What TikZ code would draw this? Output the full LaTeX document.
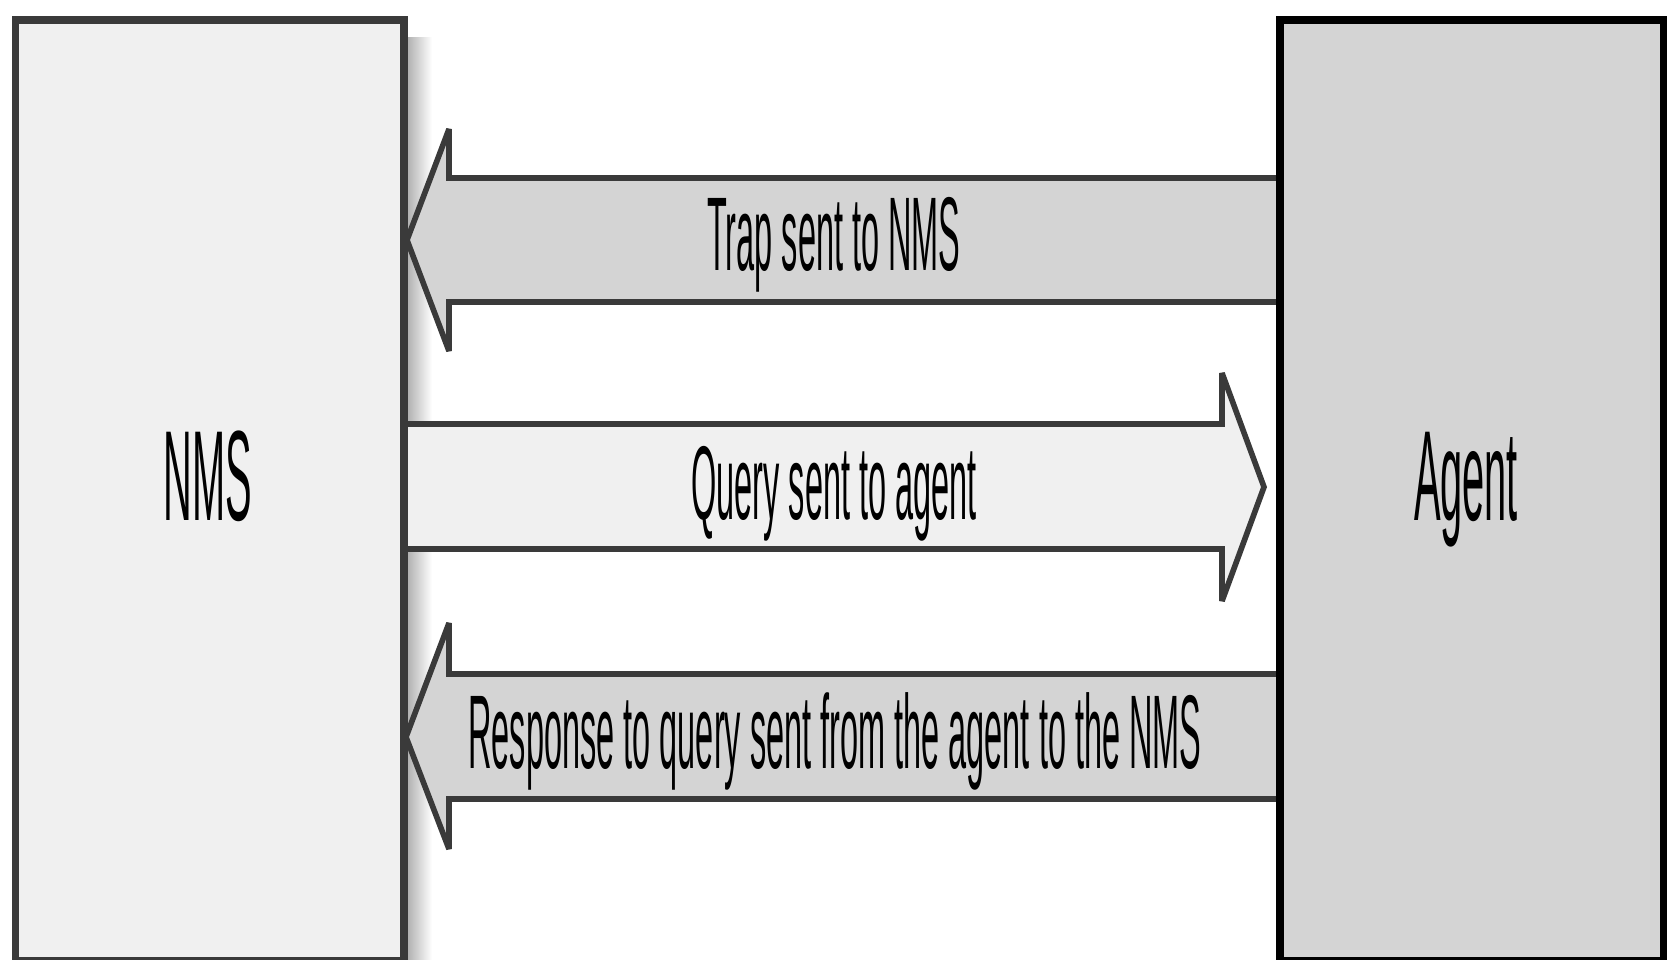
\documentclass[tikz,border=0pt]{standalone}
\usepackage{fontspec}
\setmainfont{Liberation Sans}
\usetikzlibrary{backgrounds}
\definecolor{nmsGrey}{HTML}{F0F0F0}
\definecolor{agentGrey}{HTML}{D4D4D4}
\definecolor{edgeGrey}{HTML}{3A3A3A}
\newcommand{\pxUnit}{0.01cm}
\newcommand{\boxHeight}{9.40cm}
\newcommand{\nmsWidth}{3.885cm}
\newcommand{\agentWidth}{3.84cm}
\newcommand{\labelSquash}{0.31}
\newcommand{\headBack}{449}

\begin{document}
\begin{tikzpicture}[x=\pxUnit, y=-\pxUnit,
    hostbox/.style={draw=edgeGrey, line width=2.2pt, anchor=north west, minimum height=\boxHeight, inner sep=0pt},
    hostlabel/.style={font=\fontsize{36.5}{40}\selectfont, xscale=\labelSquash, anchor=base, inner sep=0pt},
    msglabel/.style={font=\fontsize{29.8}{34}\selectfont, xscale=\labelSquash, anchor=base, inner sep=0pt},
    msgarrow/.style={draw=edgeGrey, line width=1.6pt, line join=miter, miter limit=2}]
\useasboundingbox (0,0) rectangle (1667,959);

\node (nms) [hostbox, fill=nmsGrey, minimum width=\nmsWidth] at (11.5,16) {};
\node (agent) [hostbox, fill=agentGrey, draw=black, minimum width=\agentWidth] at (1276,16) {};
\node (nmsLabel) [hostlabel] at (208,520) {NMS};
\node (agentLabel) [hostlabel] at (1466,520) {Agent};

\begin{scope}[on background layer]
%shadow of the NMS box
\shade [left color=black!30, right color=white] (nms.east |- 0,37) rectangle (432,959);
% trap, agent -> NMS
\draw [msgarrow, fill=agentGrey] (agent.west |- 0,178) -| (\headBack,129) -- (407,240)
      -- (\headBack,351) |- (agent.west |- 0,302);
% query, NMS -> agent
\draw [msgarrow, fill=nmsGrey] (nms.east |- 0,424) -| (1222,373) -- (1264,487)
      -- (1222,601) |- (nms.east |- 0,549);
% response, agent -> NMS
\draw [msgarrow, fill=agentGrey] (agent.west |- 0,674) -| (\headBack,623) -- (406,737)
      -- (\headBack,849) |- (agent.west |- 0,799);
\end{scope}

\node (trap) [msglabel] at (834,270) {Trap sent to NMS};
\node (query) [msglabel] at (834,519) {Query sent to agent};
\node (response) [msglabel] at (835,768) {Response to query sent from the agent to the NMS};
\end{tikzpicture}
\end{document}
